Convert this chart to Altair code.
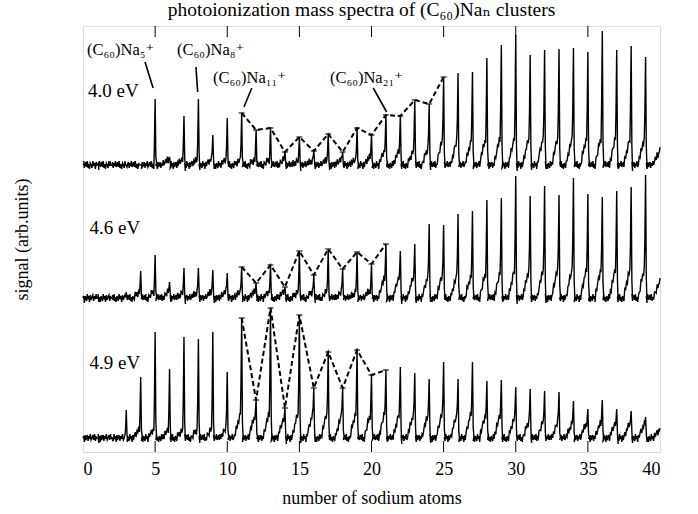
import altair as alt
import pandas as pd

# ---------------- data ----------------
n_atoms = list(range(41))
energies = ["4.0 eV", "4.6 eV", "4.9 eV"]
baselines = [287, 154, 14]

# peak heights above each trace's baseline (arb. units) for n = 0..40
peak_40 = [0, 0, 0, 0, 0, 66, 8, 49, 66, 30, 47, 52, 35, 37, 13, 28, 14, 31, 13, 37, 30,
           50, 49, 65, 61, 88, 92, 93, 107, 120, 130, 110, 115, 116, 117, 113, 134, 115, 119, 108, 18]
peak_46 = [0, 0, 0, 6, 27, 43, 16, 30, 30, 28, 25, 31, 15, 33, 11, 47, 23, 49, 29, 46, 34,
           54, 47, 54, 74, 73, 84, 87, 98, 100, 122, 102, 112, 103, 120, 104, 101, 107, 111, 123, 20]
peak_49 = [0, 0, 0, 28, 61, 106, 69, 101, 99, 106, 66, 120, 38, 130, 30, 123, 50, 86, 50, 88, 63,
           68, 71, 65, 59, 76, 59, 76, 57, 58, 51, 49, 47, 46, 37, 29, 38, 29, 27, 21, 10]

# level of the broad shoulder that precedes each peak
shoulder_40 = [0, 0, 0, 0, 0, 0, 5, 5, 5, 5, 5, 5, 5, 5, 5, 5, 5, 5, 5, 5, 8,
               14, 14, 14, 16, 24, 24, 24, 26, 26, 26, 26, 26, 26, 26, 26, 26, 26, 26, 26, 20]
shoulder_46 = [0, 0, 0, 0, 6, 6, 6, 6, 6, 6, 6, 6, 6, 6, 6, 6, 6, 6, 6, 6, 8,
               20, 20, 20, 20, 22, 22, 22, 24, 24, 28, 28, 28, 28, 28, 28, 28, 28, 28, 28, 22]
shoulder_49 = [0, 0, 0, 0, 8, 8, 8, 8, 8, 8, 10, 24, 22, 24, 22, 24, 22, 24, 22, 24, 22,
               24, 24, 24, 22, 24, 22, 24, 22, 22, 20, 16, 16, 16, 15, 15, 15, 14, 14, 12, 10]

# hand-typed baseline wiggle (detector noise texture)
noise = [0, 3, -2, 4, -3, 1, -4, 2, 0, -3, 4, -1, 2, -4, 3, -2, 1, 3, -3, 2, -1, 4, -2]

dashed_first = [11, 11, 11]
dashed_last = [25, 21, 21]

tick_values = [5, 10, 15, 20, 25, 30, 35]

label_texts = ["(C₆₀)Na₅⁺", "(C₆₀)Na₈⁺", "(C₆₀)Na₁₁⁺", "(C₆₀)Na₂₁⁺"]
label_x = [0.28, 6.52, 9.01, 17.12]
label_y = [402, 402, 374, 374]
leader_x = [4.30, 7.83, 11.70, 20.12]
leader_y = [390, 385, 364, 364]
leader_x2 = [4.86, 7.95, 11.16, 21.05]
leader_y2 = [364, 360, 345, 340]

energy_x = [0.35, 0.45, 0.45]
energy_y = [361, 224, 89]

# ---------------- build tables ----------------
peaks = [peak_40, peak_46, peak_49]
shoulders = [shoulder_40, shoulder_46, shoulder_49]
offsets = [-0.95, -0.9, -0.85, -0.8, -0.75, -0.7, -0.65, -0.6, -0.55, -0.5,
           -0.44, -0.38, -0.32, -0.26, -0.2, -0.14, -0.09, -0.05, 0.0, 0.05, 0.1]
rise = {-0.44: 0.2, -0.38: 0.35, -0.32: 0.5, -0.26: 0.65, -0.2: 0.8, -0.14: 0.92, -0.09: 1.0}

rows = []
for i, e in enumerate(energies):
    base = baselines[i]
    idx = 0
    for n in n_atoms:
        h = peaks[i][n]
        sh = min(shoulders[i][n], 0.6 * h) if h > 0 else 0
        for k, o in enumerate(offsets):
            x = n + o
            if x < 0 or x > 40:
                continue
            j = noise[(n * len(offsets) + k + i * 7) % len(noise)]
            if o <= -0.5:
                y = base + j
            elif o in rise:
                y = base + rise[o] * sh + j
            elif o == -0.05:
                y = base + sh + 0.3 * (h - sh)
            elif o == 0.0:
                y = base + h
            elif o == 0.05:
                y = base + 0.15 * h + 0.5 * j
            else:
                y = base + j - 2
            rows.append({"series": e, "x": x, "y": y, "idx": idx})
            idx += 1
trace_df = pd.DataFrame(rows)

drows = []
for i, e in enumerate(energies):
    for n in range(dashed_first[i], dashed_last[i] + 1):
        drows.append({"series": e, "x": n, "y": baselines[i] + peaks[i][n]})
dash_df = pd.DataFrame(drows)

ticks_df = pd.DataFrame({"x": tick_values})
labels_df = pd.DataFrame({"x": label_x, "y": label_y, "text": label_texts})
leaders_df = pd.DataFrame({"x": leader_x, "y": leader_y, "x2": leader_x2, "y2": leader_y2})
energy_df = pd.DataFrame({"x": energy_x, "y": energy_y, "text": energies})

FONT = "Liberation Serif, DejaVu Serif, serif"

xscale = alt.Scale(domain=[0, 40], nice=False, zero=False)
yscale = alt.Scale(domain=[0, 426], nice=False, zero=False)

xenc = alt.X("x:Q", scale=xscale,
             axis=alt.Axis(values=[0, 5, 10, 15, 20, 25, 30, 35, 40], format="d",
                           title="number of sodium atoms", grid=False, ticks=False,
                           domain=False, labelFont=FONT, labelFontSize=18,
                           labelColor="black", labelPadding=8, titleFont=FONT,
                           titleFontSize=18, titleFontWeight="normal",
                           titleColor="black", titlePadding=11))
yenc = alt.Y("y:Q", scale=yscale,
             axis=alt.Axis(title="signal (arb.units)", grid=False, ticks=False,
                           labels=False, domain=False, titleFont=FONT,
                           titleFontSize=18, titleFontWeight="normal",
                           titleColor="black", titlePadding=52))

traces = alt.Chart(trace_df).mark_line(color="black", strokeWidth=1.4).encode(
    x=xenc, y=yenc, detail="series:N", order="idx:Q")

dashes = alt.Chart(dash_df).mark_line(color="black", strokeWidth=2, strokeDash=[5, 3]).encode(
    x="x:Q", y="y:Q", detail="series:N")

caps = alt.Chart(dash_df).mark_tick(color="black", orient="horizontal", size=6,
                                    thickness=1.5).encode(x="x:Q", y="y:Q")

top_ticks = alt.Chart(ticks_df).mark_rule(color="black", strokeWidth=1).encode(
    x="x:Q", y=alt.datum(426), y2=alt.datum(415))
bottom_ticks = alt.Chart(ticks_df).mark_rule(color="black", strokeWidth=1).encode(
    x="x:Q", y=alt.datum(0), y2=alt.datum(11))

leaders = alt.Chart(leaders_df).mark_rule(color="black", strokeWidth=1.6).encode(
    x="x:Q", y="y:Q", x2="x2:Q", y2="y2:Q")

labels = alt.Chart(labels_df).mark_text(font=FONT, fontSize=16.5, align="left",
                                         baseline="middle", color="black").encode(
    x="x:Q", y="y:Q", text="text:N")

energy_labels = alt.Chart(energy_df).mark_text(font=FONT, fontSize=19, align="left",
                                                baseline="middle", color="black").encode(
    x="x:Q", y="y:Q", text="text:N")

chart = alt.layer(traces, dashes, caps, top_ticks, bottom_ticks, leaders, labels,
                  energy_labels).properties(
    width=577, height=426,
    title=alt.TitleParams(text="photoionization mass spectra of (C₆₀)Naₙ clusters",
                          font=FONT, fontSize=19.5, fontWeight="normal", color="black",
                          offset=5, dx=-10),
    autosize=alt.AutoSizeParams(type="none"),
    padding={"left": 83, "top": 26, "right": 38, "bottom": 62},
).configure_view(stroke="black", strokeWidth=1).configure(background="white")

chart.save("out.html", embed_options={"renderer": "svg", "actions": False})
